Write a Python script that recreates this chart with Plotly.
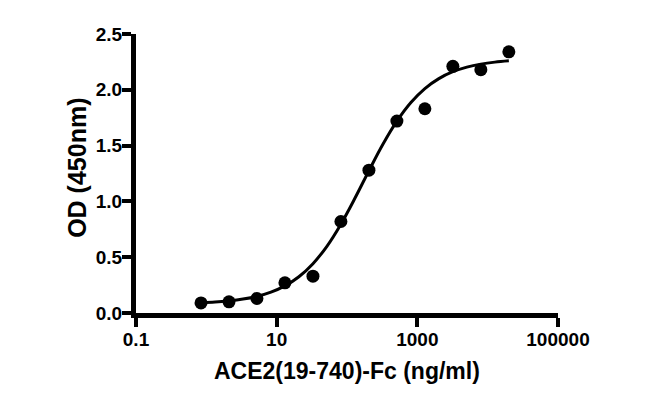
import plotly.graph_objects as go

# Measured data (concentration in ng/ml, OD at 450 nm)
conc = [0.84, 2.1, 5.24, 13.1, 32.8, 81.9, 205, 512, 1280, 3200, 8000, 20000]
od = [0.09, 0.10, 0.13, 0.27, 0.33, 0.82, 1.28, 1.72, 1.83, 2.21, 2.18, 2.34]

# Fitted curve
curve_x = [0.84, 1.33, 2.1, 3.32, 5.24, 8.29, 13.1, 20.7, 32.8, 51.8, 81.9, 129.5,
           205, 324, 512, 810, 1280, 2024, 3200, 5060, 8000, 12650, 20000]
curve_y = [0.092, 0.098, 0.109, 0.125, 0.149, 0.187, 0.243, 0.325, 0.442, 0.598, 0.796, 1.028,
           1.275, 1.512, 1.719, 1.886, 2.011, 2.100, 2.162, 2.203, 2.230, 2.248, 2.260]

x_tickvals = [0.1, 10, 1000, 100000]
x_ticktext = ["0.1", "10", "1000", "100000"]
y_tickvals = [0.0, 0.5, 1.0, 1.5, 2.0, 2.5]
y_ticktext = ["0.0", "0.5", "1.0", "1.5", "2.0", "2.5"]

FONT = "Liberation Sans"

fig = go.Figure()
fig.add_trace(go.Scatter(x=curve_x, y=curve_y, mode="lines",
                         line=dict(color="black", width=3, shape="spline"),
                         hoverinfo="skip", showlegend=False))
fig.add_trace(go.Scatter(x=conc, y=od, mode="markers",
                         marker=dict(color="black", size=13),
                         showlegend=False))

fig.update_layout(
    width=641, height=388,
    margin=dict(l=128, r=91, t=26, b=83),
    paper_bgcolor="white", plot_bgcolor="white",
    font=dict(family=FONT, color="black"),
    xaxis=dict(type="log", range=[-1, 5], tickvals=x_tickvals, ticktext=x_ticktext,
               showgrid=False, zeroline=False, showline=True, linecolor="black", linewidth=5,
               ticks="outside", ticklen=9, tickwidth=4, tickcolor="black",
               ticklabelstandoff=-4,
               tickfont=dict(family=FONT, size=19, color="black", weight="bold")),
    yaxis=dict(range=[0, 2.5], tickvals=y_tickvals, ticktext=y_ticktext,
               showgrid=False, zeroline=False, showline=True, linecolor="black", linewidth=5,
               ticks="outside", ticklen=9, tickwidth=4, tickcolor="black",
               ticklabelstandoff=-4,
               tickfont=dict(family=FONT, size=19, color="black", weight="bold")),
    annotations=[
        dict(text="ACE2(19-740)-Fc (ng/ml)", xref="paper", yref="paper",
             x=0.5, y=-0.208, showarrow=False, xanchor="center", yanchor="middle",
             font=dict(family=FONT, size=23, color="black", weight="bold")),
        dict(text="OD (450nm)", xref="paper", yref="paper",
             x=-0.14, y=0.52, showarrow=False, textangle=-90, xanchor="center", yanchor="middle",
             font=dict(family=FONT, size=25, color="black", weight="bold")),
    ],
)

fig.write_html("out.html")
